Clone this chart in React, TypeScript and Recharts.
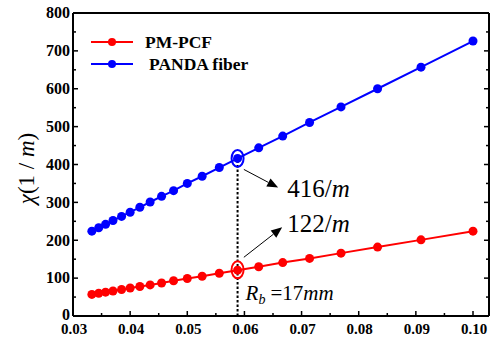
import React from 'react';
import { LineChart, Line, XAxis, YAxis, ReferenceDot, ReferenceLine } from 'recharts';

// curvature 1/R (1/mm), R = 30 ... 10 mm
const curvature = [
  0.0333, 0.0345, 0.0357, 0.037, 0.0385, 0.04, 0.0417, 0.0435, 0.0455, 0.0476, 0.05,
  0.0526, 0.0556, 0.0588, 0.0625, 0.0667, 0.0714, 0.0769, 0.0833, 0.0909, 0.1,
];
const pmPcf = [57, 60, 63, 66, 70, 74, 78, 82, 87, 93, 99, 105, 113, 121, 130, 141, 152, 166, 182, 201, 224];
const panda = [224, 233, 242, 252, 263, 274, 287, 301, 316, 331, 350, 369, 392, 416, 444, 475, 511, 552, 600, 657, 726];

const xTicks = [0.03, 0.035, 0.04, 0.045, 0.05, 0.055, 0.06, 0.065, 0.07, 0.075, 0.08, 0.085, 0.09, 0.095, 0.1];
const yTicks = [0, 50, 100, 150, 200, 250, 300, 350, 400, 450, 500, 550, 600, 650, 700, 750, 800];

const pmData = curvature.map((x, i) => ({ x, y: pmPcf[i] }));
const pandaData = curvature.map((x, i) => ({ x, y: panda[i] }));

const FONT = 'Liberation Serif';
const RED = '#ff0000';
const BLUE = '#0000ff';

const isMajorX = (v: number) => Math.abs(v * 100 - Math.round(v * 100)) < 1e-6;
const isMajorY = (v: number) => v % 100 === 0;

const BottomTick = ({ x, y, payload }: any) => {
  const major = isMajorX(payload.value);
  return (
    <g>
      <line x1={x} x2={x} y1={y} y2={y - (major ? 5 : 3)} stroke="#000" strokeWidth={1.5} />
      {major && (
        <text x={x + 1} y={y + 18} textAnchor="middle" fontFamily={FONT} fontWeight="bold" fontSize={15} fill="#000">
          {payload.value.toFixed(2)}
        </text>
      )}
    </g>
  );
};

const TopTick = ({ x, y, payload }: any) => {
  const major = isMajorX(payload.value);
  return <line x1={x} x2={x} y1={y} y2={y + (major ? 5 : 3)} stroke="#000" strokeWidth={1.5} />;
};

const LeftTick = ({ x, y, payload }: any) => {
  const major = isMajorY(payload.value);
  return (
    <g>
      <line x1={x} x2={x + (major ? 5 : 3)} y1={y} y2={y} stroke="#000" strokeWidth={1.5} />
      {major && (
        <text x={x - 3} y={payload.value === 0 ? y - 1 : y} dy="0.33em" textAnchor="end" fontFamily={FONT} fontWeight="bold" fontSize={16} fill="#000">
          {payload.value}
        </text>
      )}
    </g>
  );
};

const RightTick = ({ x, y, payload }: any) => {
  const major = isMajorY(payload.value);
  return <line x1={x} x2={x - (major ? 5 : 3)} y1={y} y2={y} stroke="#000" strokeWidth={1.5} />;
};

const YLabel = ({ viewBox }: any) => {
  const cy = viewBox.y + viewBox.height / 2 + 4;
  return (
    <text transform={`translate(26,${cy}) rotate(-90)`} textAnchor="middle" dy="0.35em" fontFamily={FONT} fontSize={23} fill="#000">
      <tspan fontStyle="italic">χ</tspan>
      <tspan>(1 / </tspan>
      <tspan fontStyle="italic">m</tspan>
      <tspan>)</tspan>
    </text>
  );
};

const Arrow = ({ x1, y1, x2, y2 }: any) => {
  const a = Math.atan2(y2 - y1, x2 - x1);
  const L = 11;
  const W = 4.5;
  const bx = x2 - L * Math.cos(a);
  const by = y2 - L * Math.sin(a);
  const px = -Math.sin(a) * W;
  const py = Math.cos(a) * W;
  return (
    <g>
      <line x1={x1} y1={y1} x2={bx} y2={by} stroke="#000" strokeWidth={1} />
      <polygon points={`${x2},${y2} ${bx + px},${by + py} ${bx - px},${by - py}`} fill="#000" />
    </g>
  );
};

const ellipse = (color: string) => (p: any) => (
  <ellipse cx={p.cx} cy={p.cy} rx={6} ry={8.5} fill="none" stroke={color} strokeWidth={2} />
);

const perM = (value: string) => (p: any) => (
  <text x={p.cx} y={p.cy} fontFamily={FONT} fontSize={25} fill="#000">
    {value}/<tspan fontStyle="italic">m</tspan>
  </text>
);

const radiusLabel = (p: any) => (
  <text x={p.cx} y={p.cy} fontFamily={FONT} fontSize={21} fill="#000">
    <tspan fontStyle="italic">R</tspan>
    <tspan fontStyle="italic" fontSize={14} dy={4}>b</tspan>
    <tspan dy={-4} dx={5}>=17</tspan>
    <tspan fontStyle="italic">mm</tspan>
  </text>
);

const LegendRow = ({ color, label, shift }: { color: string; label: string; shift: number }) => (
  <div style={{ display: 'flex', alignItems: 'center', height: 22 }}>
    <svg width={42} height={22}>
      <line x1={0} x2={42} y1={11} y2={11} stroke={color} strokeWidth={2} />
      <circle cx={21} cy={11} r={4} fill={color} />
    </svg>
    <span style={{ marginLeft: 12 + shift, fontFamily: FONT, fontWeight: 'bold', fontSize: 17.5, color: '#000', whiteSpace: 'nowrap' }}>
      {label}
    </span>
  </div>
);

export default function App() {
  return (
    <div style={{ position: 'fixed', left: 0, top: 0, width: 494, height: 342, background: '#fff' }}>
      <LineChart width={494} height={342} margin={{ top: 12, right: 4, bottom: 0, left: 0 }}>
        <XAxis
          xAxisId="bottom"
          dataKey="x"
          type="number"
          domain={[0.03, 0.1028]}
          ticks={xTicks}
          interval={0}
          allowDataOverflow
          height={26}
          tickSize={0}
          tickMargin={0}
          tick={<BottomTick />}
          axisLine={{ stroke: '#000', strokeWidth: 2 }}
        />
        <XAxis
          xAxisId="top"
          orientation="top"
          type="number"
          domain={[0.03, 0.1028]}
          ticks={xTicks}
          interval={0}
          allowDataOverflow
          height={1}
          tickSize={0}
          tickMargin={0}
          tick={<TopTick />}
          axisLine={{ stroke: '#000', strokeWidth: 2 }}
        />
        <YAxis
          yAxisId="left"
          type="number"
          domain={[0, 800]}
          ticks={yTicks}
          interval={0}
          allowDataOverflow
          width={73}
          tickSize={0}
          tickMargin={0}
          tick={<LeftTick />}
          axisLine={{ stroke: '#000', strokeWidth: 2 }}
          label={{ content: <YLabel /> }}
        />
        <YAxis
          yAxisId="right"
          orientation="right"
          type="number"
          domain={[0, 800]}
          ticks={yTicks}
          interval={0}
          allowDataOverflow
          width={1}
          tickSize={0}
          tickMargin={0}
          tick={<RightTick />}
          axisLine={{ stroke: '#000', strokeWidth: 2 }}
        />

        <ReferenceLine
          xAxisId="bottom"
          yAxisId="left"
          segment={[{ x: 0.0588, y: 0 }, { x: 0.0588, y: 416 }]}
          stroke="#000"
          strokeWidth={2}
          strokeDasharray="2.5 2"
        />

        <Line
          xAxisId="bottom"
          yAxisId="left"
          data={pmData}
          dataKey="y"
          name="PM-PCF"
          stroke={RED}
          strokeWidth={2}
          dot={{ r: 4.5, fill: RED, stroke: RED, strokeWidth: 0 }}
          isAnimationActive={false}
        />
        <Line
          xAxisId="bottom"
          yAxisId="left"
          data={pandaData}
          dataKey="y"
          name="PANDA fiber"
          stroke={BLUE}
          strokeWidth={2}
          dot={{ r: 4.5, fill: BLUE, stroke: BLUE, strokeWidth: 0 }}
          isAnimationActive={false}
        />

        <ReferenceDot xAxisId="bottom" yAxisId="left" x={0.0588} y={416} r={6} shape={ellipse(BLUE)} />
        <ReferenceDot xAxisId="bottom" yAxisId="left" x={0.0588} y={122} r={6} shape={ellipse(RED)} />

        <ReferenceLine xAxisId="bottom" yAxisId="left" segment={[{ x: 0.0599, y: 387 }, { x: 0.0659, y: 339 }]} shape={Arrow} />
        <ReferenceLine xAxisId="bottom" yAxisId="left" segment={[{ x: 0.0599, y: 155 }, { x: 0.0666, y: 234 }]} shape={Arrow} />

        <ReferenceDot xAxisId="bottom" yAxisId="left" x={0.0675} y={313} r={1} shape={perM('416')} />
        <ReferenceDot xAxisId="bottom" yAxisId="left" x={0.0675} y={221} r={1} shape={perM('122')} />
        <ReferenceDot xAxisId="bottom" yAxisId="left" x={0.0602} y={42} r={1} shape={radiusLabel} />
      </LineChart>

      <div style={{ position: 'absolute', left: 91, top: 31 }}>
        <LegendRow color={RED} label="PM-PCF" shift={0} />
        <LegendRow color={BLUE} label="PANDA fiber" shift={4} />
      </div>
    </div>
  );
}
